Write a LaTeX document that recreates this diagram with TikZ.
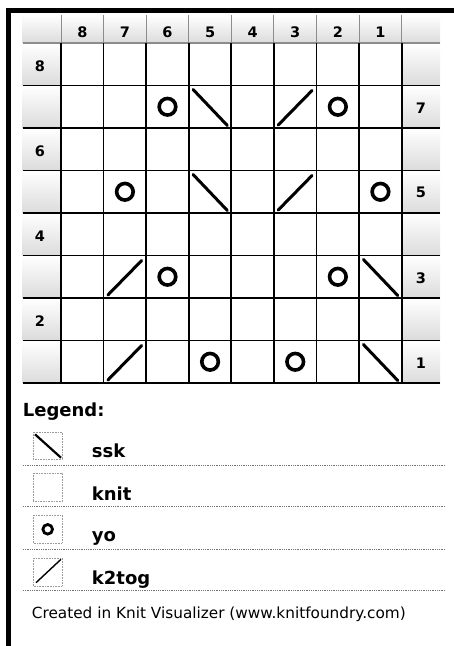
\documentclass[tikz,border=0pt]{standalone}
\usepackage{fontspec}
\setmainfont{DejaVu Sans}
\begin{document}
\begin{tikzpicture}[x=1pt,y=-1pt,
  gridline/.style={black,line width=1.8pt},
  hdrline/.style={black!45,line width=1pt},
  lbl/.style={font=\fontsize{14.5}{16}\selectfont\bfseries,inner sep=0pt},
  yosym/.style={black,line width=3.6pt},
  decsym/.style={black,line width=3pt,line cap=round},
  legbox/.style={draw=black!40,densely dotted,line width=0.6pt},
  legtxt/.style={font=\fontsize{18}{20}\selectfont\bfseries,anchor=base west,inner sep=0pt},
  sepline/.style={black!55,densely dotted,line width=0.8pt}]
\useasboundingbox (0,0) rectangle (454,646);
\fill[white] (0,0) rectangle (454,646);
% frame
\draw[black,line width=5pt] (6,10) -- (454,10);
\draw[black,line width=5pt] (8.5,7.5) -- (8.5,646);
% shaded label areas
\shade[top color=white,bottom color=black!14] (22.7,15) rectangle (440,43);
\foreach \r in {0,...,7}{
  \shade[top color=white,bottom color=black!14] (22.7,{43+42.5*\r}) rectangle (61,{43+42.5*(\r+1)});
  \shade[top color=white,bottom color=black!14] (401.7,{43+42.5*\r}) rectangle (440,{43+42.5*(\r+1)});
}
% header grey lines
\foreach \i in {0,...,8}{
  \draw[hdrline] ({61+42.59*\i},15) -- ({61+42.59*\i},43);
}
\draw[hdrline,line width=1.4pt] (22.7,43) -- (440,43);
% grid
\foreach \j in {1,...,8}{
  \draw[gridline] (22.7,{43+42.5*\j}) -- (440,{43+42.5*\j});
}
\foreach \i in {0,...,8}{
  \draw[gridline] ({61+42.59*\i},43) -- ({61+42.59*\i},383);
}
% column numbers
\foreach \c in {0,...,7}{
  \pgfmathtruncatemacro\n{8-\c}
  \node[lbl] (col\n) at ({61+42.59*(\c+0.5)},32) {\n};
}
% row numbers
\foreach \n/\r in {8/0,6/2,4/4,2/6}{
  \node[lbl] (rowl\n) at (40,{43+42.5*(\r+0.5)+2}) {\n};
}
\foreach \n/\r in {7/1,5/3,3/5,1/7}{
  \node[lbl] (rowr\n) at (421,{43+42.5*(\r+0.5)+1}) {\n};
}
% yo symbols
\foreach \c/\r in {2/1,6/1,1/3,7/3,2/5,6/5,3/7,5/7}{
  \draw[yosym] ({61+42.59*(\c+0.5)},{43+42.5*(\r+0.5)}) circle[radius=8.3];
}
% ssk symbols
\foreach \c/\r in {3/1,3/3,7/5,7/7}{
  \draw[decsym] ({61+42.59*\c+4.3},{43+42.5*\r+4}) -- ({61+42.59*(\c+1)-4},{43+42.5*(\r+1)-2.5});
}
% k2tog symbols
\foreach \c/\r in {5/1,5/3,1/5,1/7}{
  \draw[decsym] ({61+42.59*\c+4.3},{43+42.5*(\r+1)-3}) -- ({61+42.59*(\c+1)-4.5},{43+42.5*\r+5});
}
% legend
\node[legtxt] (legend) at (22.7,416) {Legend:};
\draw[legbox] (33,432) rectangle (62,459);
\draw[black,line width=2.2pt] (35,434.3) -- (61,457.7);
\node[legtxt] (ssk) at (91.7,457.3) {ssk};
\draw[sepline] (23,465) -- (445,465);
\draw[legbox] (33,473) rectangle (62,501.7);
\node[legtxt] (knit) at (91.7,500) {knit};
\draw[sepline] (23,506.7) -- (445,506.7);
\draw[legbox] (33,515) rectangle (62,543);
\draw[black,line width=2.8pt] (47.7,529.3) circle[radius=4.8];
\node[legtxt] (yo) at (91.7,541.5) {yo};
\draw[sepline] (23,549.3) -- (445,549.3);
\draw[legbox] (33,558) rectangle (62,586);
\draw[black,line width=1.4pt] (36,582.7) -- (61,559.3);
\node[legtxt] (k2tog) at (91.7,584.3) {k2tog};
\draw[sepline] (23,590) -- (445,590);
\node[anchor=base west,inner sep=0pt,font=\fontsize{15.3}{17}\selectfont] (credit) at (31.7,618.3) {Created in Knit Visualizer (www.knitfoundry.com)};
\end{tikzpicture}
\end{document}
